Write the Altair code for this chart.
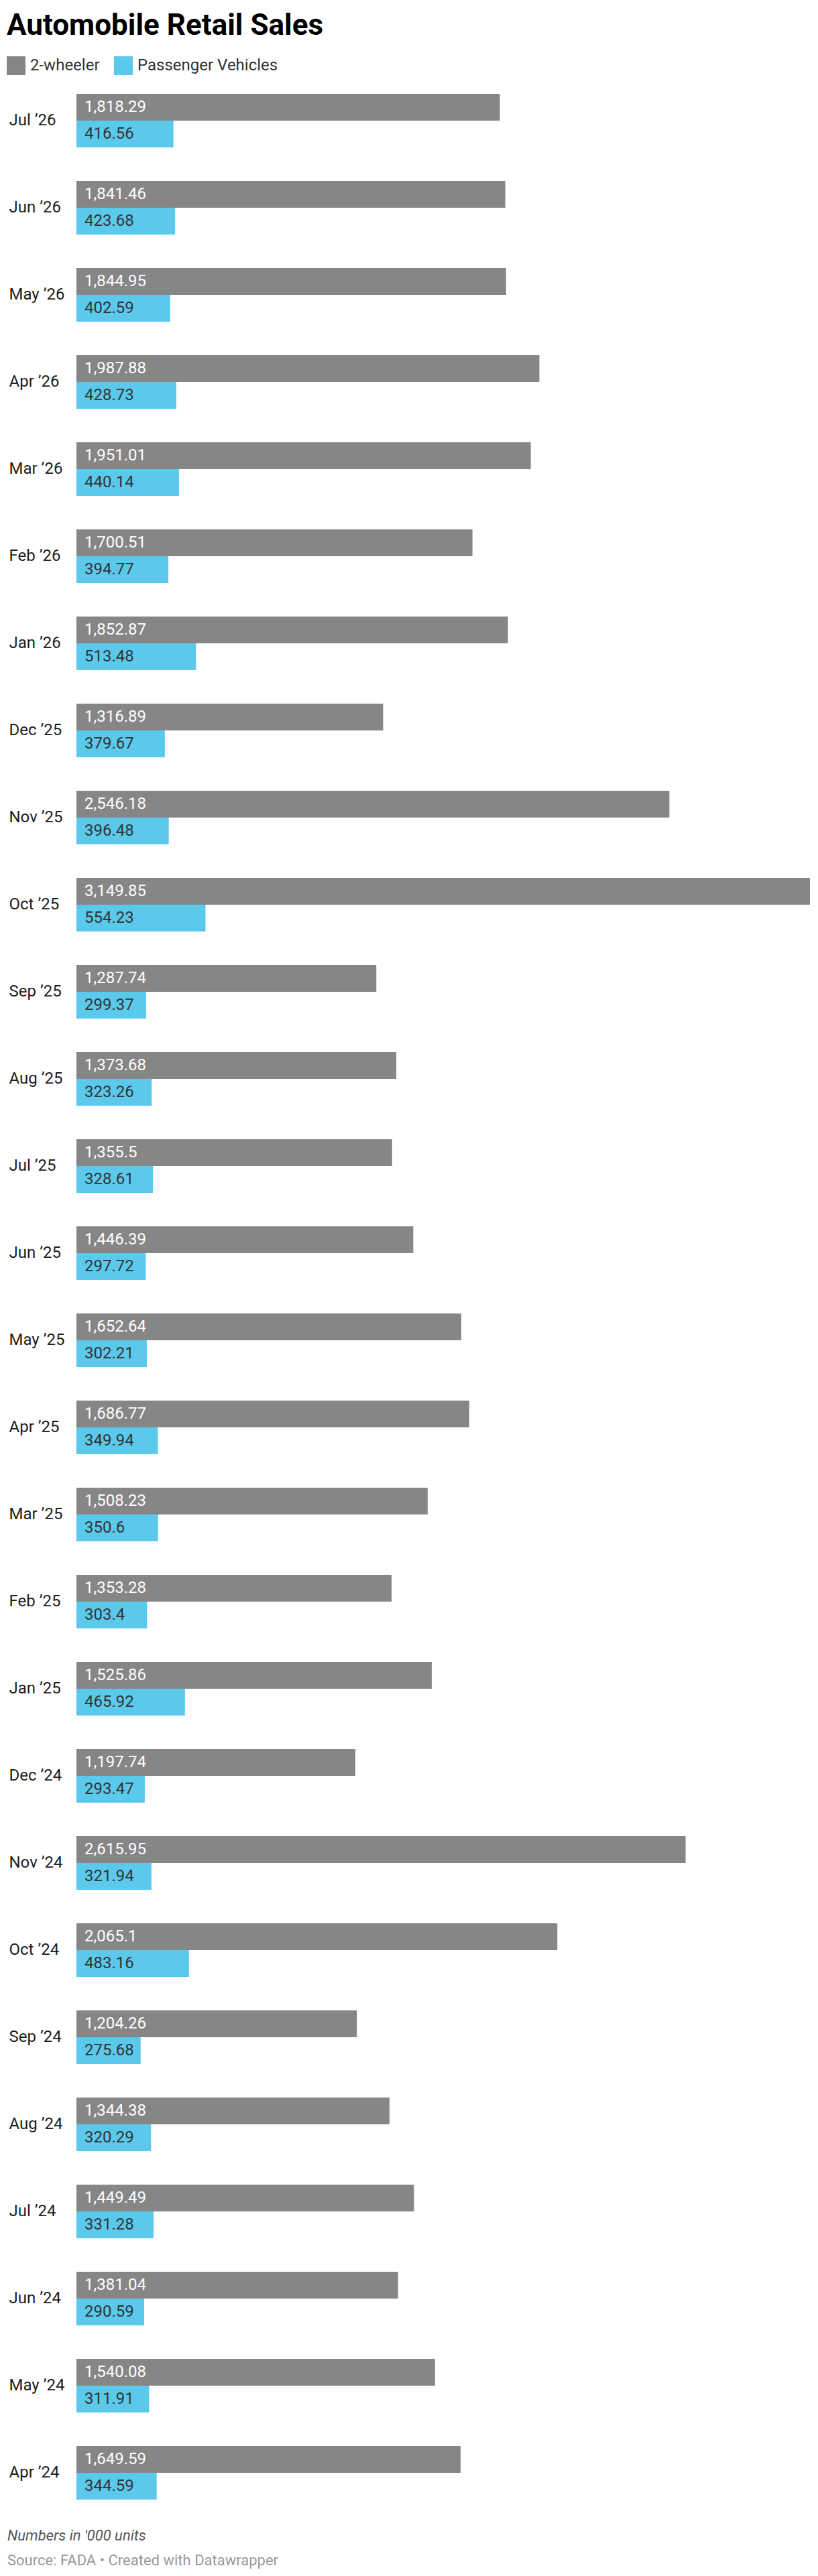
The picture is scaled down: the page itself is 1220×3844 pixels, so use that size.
import altair as alt
import pandas as pd

months = ["Jul ’26", "Jun ’26", "May ’26", "Apr ’26", "Mar ’26", "Feb ’26", "Jan ’26",
          "Dec ’25", "Nov ’25", "Oct ’25", "Sep ’25", "Aug ’25", "Jul ’25", "Jun ’25",
          "May ’25", "Apr ’25", "Mar ’25", "Feb ’25", "Jan ’25", "Dec ’24", "Nov ’24",
          "Oct ’24", "Sep ’24", "Aug ’24", "Jul ’24", "Jun ’24", "May ’24", "Apr ’24"]
two_wheeler = [1818.29, 1841.46, 1844.95, 1987.88, 1951.01, 1700.51, 1852.87,
               1316.89, 2546.18, 3149.85, 1287.74, 1373.68, 1355.5, 1446.39,
               1652.64, 1686.77, 1508.23, 1353.28, 1525.86, 1197.74, 2615.95,
               2065.1, 1204.26, 1344.38, 1449.49, 1381.04, 1540.08, 1649.59]
passenger = [416.56, 423.68, 402.59, 428.73, 440.14, 394.77, 513.48,
             379.67, 396.48, 554.23, 299.37, 323.26, 328.61, 297.72,
             302.21, 349.94, 350.6, 303.4, 465.92, 293.47, 321.94,
             483.16, 275.68, 320.29, 331.28, 290.59, 311.91, 344.59]
series_names = ["2-wheeler", "Passenger Vehicles"]
series_colors = ["#868686", "#5bc9ec"]
footer_lines = ["Numbers in '000 units", "Source: FADA • Created with Datawrapper"]

rows = []
for m, a, b in zip(months, two_wheeler, passenger):
    rows.append({"month": m, "series": series_names[0], "value": a})
    rows.append({"month": m, "series": series_names[1], "value": b})
df = pd.DataFrame(rows)

W = 1094
H = 3590
FONT = "Roboto"

y_enc = alt.Y("month:N", sort=months,
              scale=alt.Scale(paddingInner=50 / 130, paddingOuter=0),
              axis=alt.Axis(title=None, domain=False, ticks=False, tickSize=0,
                            labelAlign="left", labelPadding=101, labelFontSize=24,
                            labelFont=FONT, labelColor="#1d1d1d", labelBaseline="middle"))
yoff = alt.YOffset("series:N", sort=series_names, scale=alt.Scale(paddingInner=0, paddingOuter=0))

base = alt.Chart(df)

bars = base.mark_bar().encode(
    x=alt.X("value:Q", scale=alt.Scale(domain=[0, 3149.85], nice=False, zero=True),
            axis=None),
    y=y_enc,
    yOffset=yoff,
    color=alt.Color("series:N", sort=series_names,
                    scale=alt.Scale(domain=series_names, range=series_colors),
                    legend=alt.Legend(title=None, orient="none", legendX=-104, legendY=-56,
                                      direction="horizontal", symbolType="square",
                                      symbolSize=784, symbolStrokeWidth=0,
                                      labelFont=FONT, labelFontSize=24, labelColor="#333333",
                                      labelLimit=400,
                                      labelOffset=7, columnPadding=21, padding=0)),
)

labels = base.mark_text(align="left", baseline="middle", dx=12, font=FONT, fontSize=24).encode(
    x=alt.datum(0),
    y=alt.Y("month:N", sort=months),
    yOffset=yoff,
    text=alt.Text("value:Q", format=",.2~f"),
    color=alt.condition(alt.datum.series == "2-wheeler", alt.value("#ffffff"), alt.value("#333333")),
)

foot_df = pd.DataFrame({"t": footer_lines})
foot1 = alt.Chart(foot_df).transform_filter(alt.datum.t == footer_lines[0]).mark_text(
    align="left", baseline="alphabetic", font=FONT, fontSize=22, fontStyle="italic", color="#555555"
).encode(text="t:N", x=alt.value(-103), y=alt.value(H + 61))
foot2 = alt.Chart(foot_df).transform_filter(alt.datum.t == footer_lines[1]).mark_text(
    align="left", baseline="alphabetic", font=FONT, fontSize=22, color="#999999"
).encode(text="t:N", x=alt.value(-103), y=alt.value(H + 98))

chart = alt.layer(bars, labels, foot1, foot2).properties(
    width=W, height=H,
    title=alt.TitleParams("Automobile Retail Sales", anchor="start", frame="group",
                          font=FONT, fontSize=44, fontWeight="bold", color="#000000",
                          dx=-104, offset=23),
    padding={"left": 106, "top": 132, "right": 4, "bottom": 106},
    autosize="none",
    background="white",
).configure_view(strokeWidth=0, stroke=None)

chart.save("out.html", embed_options={"renderer": "svg", "actions": False})
